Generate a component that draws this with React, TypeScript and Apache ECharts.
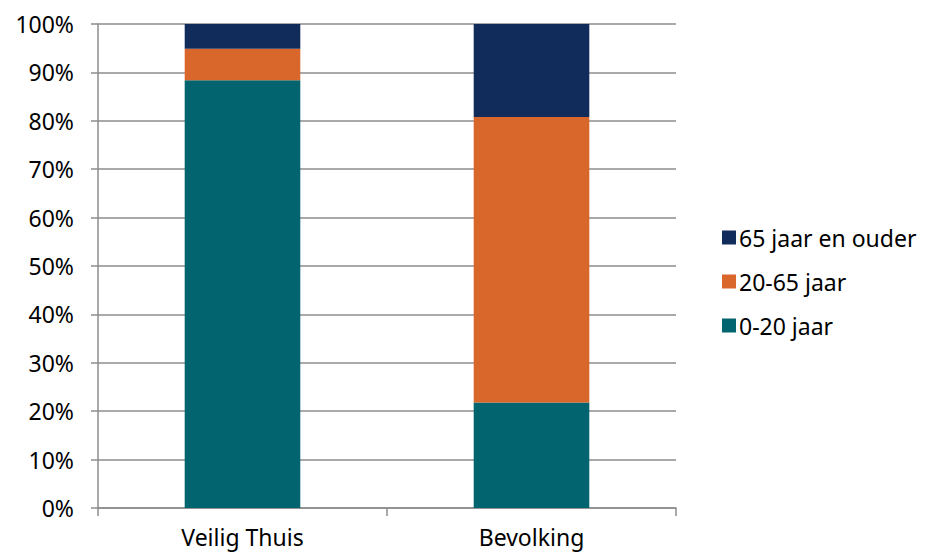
import React, { useEffect, useRef } from "react";
import * as echarts from "echarts";

const categories = ["Veilig Thuis", "Bevolking"];
const age0to20 = [88.4, 21.8];
const age20to65 = [6.5, 59.0];
const age65plus = [5.1, 19.2];
const yTicks = [0, 10, 20, 30, 40, 50, 60, 70, 80, 90, 100];

const FONT = "Noto Sans";

export default function App() {
  const ref = useRef<HTMLDivElement>(null);
  useEffect(() => {
    document.body.style.margin = "0";
    if (!ref.current) return;
    const chart = echarts.init(ref.current, null, { renderer: "svg" });
    chart.setOption({
      animation: false,
      textStyle: { fontFamily: FONT },
      grid: { left: 98, right: 252, top: 24, bottom: 44, containLabel: false },
      legend: {
        orient: "vertical",
        left: 717,
        top: 221,
        itemWidth: 14,
        itemHeight: 14,
        itemGap: 21,
        icon: "rect",
        data: ["65 jaar en ouder", "20-65 jaar", "0-20 jaar"],
        textStyle: { fontSize: 23, color: "#000", fontFamily: FONT, lineHeight: 23, padding: [0, 0, 0, -2] },
      },
      xAxis: {
        type: "category",
        data: categories,
        axisLine: { show: true, lineStyle: { color: "#8c8c8c", width: 1.5 } },
        axisTick: { show: true, length: 8, lineStyle: { color: "#8c8c8c", width: 1.5 } },
        axisLabel: { fontSize: 23, lineHeight: 23, color: "#000", margin: 17, fontFamily: FONT },
      },
      yAxis: {
        type: "value",
        min: 0,
        max: 100,
        interval: 10,
        axisLine: { show: true, lineStyle: { color: "#8c8c8c", width: 1.5 } },
        axisTick: { show: true, length: 7, lineStyle: { color: "#8c8c8c", width: 1.5 } },
        splitLine: { show: true, lineStyle: { color: "#8c8c8c", width: 1.5 } },
        axisLabel: {
          fontSize: 23,
          color: "#000",
          margin: 24,
          fontFamily: FONT,
          formatter: (v: number) => (yTicks.includes(v) ? v + "%" : ""),
        },
      },
      series: [
        {
          name: "0-20 jaar",
          type: "bar",
          stack: "total",
          barWidth: "40%",
          data: age0to20,
          itemStyle: { color: "#02646E" },
        },
        {
          name: "20-65 jaar",
          type: "bar",
          stack: "total",
          barWidth: "40%",
          data: age20to65,
          itemStyle: { color: "#D9672B" },
        },
        {
          name: "65 jaar en ouder",
          type: "bar",
          stack: "total",
          barWidth: "40%",
          data: age65plus,
          itemStyle: { color: "#112B5A" },
        },
      ],
    });
    return () => chart.dispose();
  }, []);
  return <div ref={ref} style={{ width: 928, height: 552 }} />;
}
